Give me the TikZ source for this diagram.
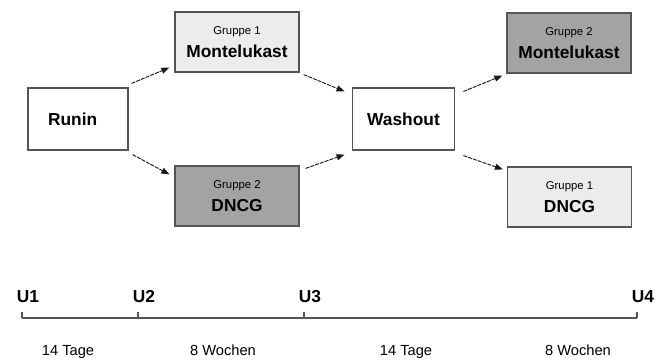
\documentclass[tikz,border=0pt]{standalone}
\usepackage{fontspec}
\setmainfont{Liberation Sans}
\usetikzlibrary{arrows.meta}
\definecolor{boxline}{RGB}{85,85,85}
\definecolor{lightfill}{RGB}{236,236,236}
\definecolor{darkfill}{RGB}{163,163,163}

\begin{document}
\begin{tikzpicture}[x=0.75pt,y=-0.75pt,
  phase/.style={draw=boxline,line width=0.9pt,inner sep=0pt,
    minimum width=75pt,minimum height=46.5pt,
    font=\fontsize{13}{15}\selectfont\bfseries},
  group/.style={phase,minimum width=93pt,minimum height=45pt,align=center},
  flow/.style={-{Triangle[length=6pt,width=4.5pt]},line width=0.7pt,
    black!90,dash pattern=on 3pt off 0.8pt}]
  \useasboundingbox (0,0) rectangle (663,361);

  % Boxes of the cross-over design.
  \node[phase,fill=white] (runin) at (78,119) {\hspace*{-8pt}Runin};
  \node[group,fill=lightfill] (g1mont) at (237,42)
    {{\fontsize{8.5}{10}\selectfont\mdseries Gruppe 1}\\[2pt]Montelukast};
  \node[group,fill=darkfill] (g2dncg) at (237,196)
    {{\fontsize{8.5}{10}\selectfont\mdseries Gruppe 2}\\[2pt]DNCG};
  \node[phase,fill=white,minimum width=77pt] (wash) at (403.5,119) {Washout};
  \node[group,fill=darkfill] (g2mont) at (569,43)
    {{\fontsize{8.5}{10}\selectfont\mdseries Gruppe 2}\\[2pt]Montelukast};
  \node[group,fill=lightfill] (g1dncg) at (569.5,197)
    {{\fontsize{8.5}{10}\selectfont\mdseries Gruppe 1}\\[2pt]DNCG};

  \draw[flow] ([shift={(3,-4)}]runin.north east) -- ([shift={(-5,-5)}]g1mont.south west);
  \draw[flow] ([shift={(4,4)}]runin.south east) -- ([shift={(-5,9)}]g2dncg.north west);
  \draw[flow] ([shift={(4,2)}]g1mont.south east) -- ([shift={(-7,4)}]wash.north west);
  \draw[flow] ([shift={(6,3)}]g2dncg.north east) -- ([shift={(-7,4)}]wash.south west);
  \draw[flow] ([shift={(8,4)}]wash.north east) -- ([shift={(-4,2)}]g2mont.south west);
  \draw[flow] ([shift={(8,5)}]wash.south east) -- ([shift={(-4,3)}]g1dncg.north west);

  % Time axis with visits and durations.
  \draw[boxline,line width=1.2pt] (22,318) -- (637,318);
  \foreach \xx/\lab in {22/U1,138/U2,304/U3,637/U4}{
    \draw[boxline,line width=0.9pt] (\xx,318) -- (\xx,312);
    \node[anchor=base,font=\fontsize{13}{15}\selectfont\bfseries] (visit\lab) at (\xx+6,302) {\lab};
  }
  \foreach \xx/\lab [count=\i] in {68/14 Tage,223/8 Wochen,406/14 Tage,578/8 Wochen}{
    \node[anchor=base,font=\fontsize{11}{13}\selectfont] (span\i) at (\xx,355) {\lab};
  }
\end{tikzpicture}
\end{document}
